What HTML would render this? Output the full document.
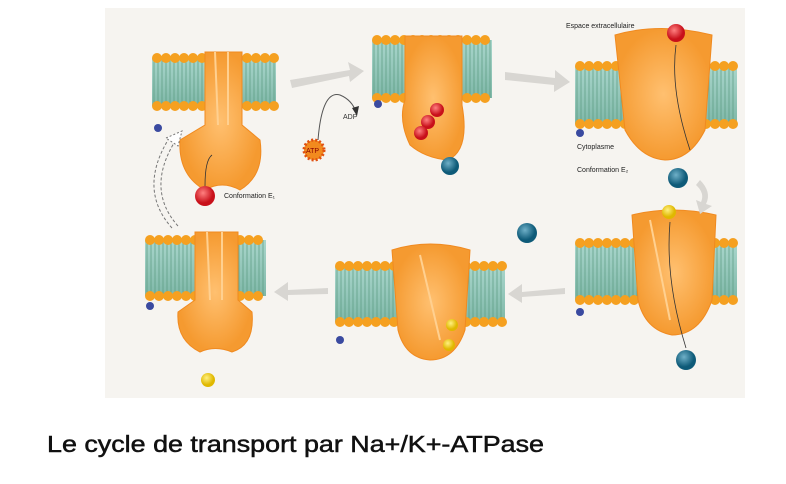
<!DOCTYPE html>
<html><head><meta charset="utf-8"><style>
body{margin:0;background:#fff;width:786px;height:484px;overflow:hidden;font-family:"Liberation Sans",sans-serif}
</style></head><body>
<svg id="fig" width="786" height="484" style="position:absolute;left:0;top:0">
<defs>
<radialGradient id="red" cx="40%" cy="35%"><stop offset="0" stop-color="#ff8080"/><stop offset="1" stop-color="#c8101a"/></radialGradient>
<radialGradient id="blue" cx="40%" cy="35%"><stop offset="0" stop-color="#6fb0c8"/><stop offset="1" stop-color="#0e5a78"/></radialGradient>
<radialGradient id="yel" cx="40%" cy="35%"><stop offset="0" stop-color="#fff080"/><stop offset="1" stop-color="#e0b800"/></radialGradient>
<radialGradient id="prot" cx="50%" cy="50%"><stop offset="0" stop-color="#ffc070"/><stop offset="1" stop-color="#f59a30"/></radialGradient>
<linearGradient id="tail" x1="0" y1="0" x2="0" y2="1"><stop offset="0" stop-color="#a9d6cc"/><stop offset="1" stop-color="#7fb8a8"/></linearGradient>
</defs>
<rect x="105" y="8" width="640" height="390" fill="#f6f4f0"/>
<g id="mem"></g>
<g id="arrows" fill="#d8d6d2">
 <path d="M290 80 L350 70 L348 62 L364 71 L350 82 L349 76 L292 88Z"/>
 <path d="M505 72 L555 78 L555 70 L570 82 L554 92 L554 85 L505 80Z"/>
 <path d="M700 180 Q712 192 706 204 L712 206 L700 214 L696 200 L701 202 Q705 193 696 185Z"/>
 <path d="M565 288 L522 292 L522 284 L508 294 L522 303 L522 297 L565 294Z"/>
 <path d="M328 288 L288 290 L288 282 L274 292 L288 301 L288 295 L328 294Z"/>
</g>
<path d="M172 228 Q138 190 168 140" fill="none" stroke="#777" stroke-width="1" stroke-dasharray="3 2"/>
<path d="M178 226 Q146 190 174 143" fill="none" stroke="#777" stroke-width="1" stroke-dasharray="3 2"/>
<path d="M166 138 L182 131 L178 146Z" fill="#fff" stroke="#777" stroke-dasharray="2 2"/>
<path d="M318 140 Q322 90 340 95 Q352 100 356 112" fill="none" stroke="#555"/>
<path d="M352 108 L357 116 L359 106Z" fill="#333"/>
<text x="343" y="119" font-size="7" fill="#333">ADP</text>
<g><circle cx="314" cy="150" r="10" fill="#f28a1e" stroke="#e05010" stroke-width="3" stroke-dasharray="2 2"/><text x="306" y="153" font-size="7" fill="#800">ATP</text></g>
<text x="566" y="28" font-size="7" fill="#222">Espace extracellulaire</text>
<text x="577" y="149" font-size="7" fill="#222">Cytoplasme</text>
<text x="577" y="172" font-size="7" fill="#222">Conformation E₂</text>
<text x="224" y="198" font-size="7" fill="#222">Conformation E₁</text>
<g id="ions"></g>
<text x="47" y="452" font-size="23" fill="#111" stroke="#111" stroke-width="0.5" textLength="497" lengthAdjust="spacingAndGlyphs">Le cycle de transport par Na+/K+-ATPase</text>
</svg>
<script>
const NS="http://www.w3.org/2000/svg";
const svg=document.getElementById('fig'),mem=document.getElementById('mem'),ions=document.getElementById('ions');
function el(t,a,p){const e=document.createElementNS(NS,t);for(const k in a)e.setAttribute(k,a[k]);(p||mem).appendChild(e);return e;}
const membranes=[[152,276,58,106],[372,492,40,98],[575,737,66,124],[145,266,240,296],[335,505,266,322],[575,737,243,300]];
membranes.forEach((m,i)=>{
 const g=el('g',{});
 
 
 el('rect',{x:m[0],y:m[2],width:m[1]-m[0],height:m[3]-m[2],fill:'url(#tail)'},g);
 for(let x=m[0]+2;x<m[1];x+=4)el('line',{x1:x,y1:m[2],x2:x,y2:m[3],stroke:'#5a9a80','stroke-width':0.7},g);
 for(let x=m[0]+5;x<m[1];x+=9){el('circle',{cx:x,cy:m[2],r:5,fill:'#f5a020'},g);el('circle',{cx:x,cy:m[3],r:5,fill:'#f5a020'},g);}
});
const prot=[
 "M205 52 L242 52 L242 125 L260 140 Q265 175 240 190 Q222 180 205 190 Q178 175 180 140 L205 125Z",
 "M405 36 L462 36 L462 105 Q470 150 448 160 Q425 158 410 145 Q398 120 405 100Z",
 "M615 35 Q660 22 712 35 L705 130 Q690 160 665 160 Q640 158 625 130Z",
 "M195 232 L238 232 L238 300 L252 312 Q255 345 232 352 Q215 345 200 352 Q176 340 178 312 L195 300Z",
 "M392 250 Q430 238 470 250 L465 330 Q455 360 430 360 Q405 358 398 330Z",
 "M632 215 Q672 205 716 215 L712 300 Q700 335 672 335 Q645 330 638 300Z"];
prot.forEach((d,i)=>{const p=el('path',{d:d,fill:'url(#prot)',stroke:'#f08a20'});
 
 });
[[215,52,218,125],[228,52,228,125],[207,232,210,300],[222,232,222,300],[420,255,440,340],[650,220,670,320]].forEach(l=>el('line',{x1:l[0],y1:l[1],x2:l[2],y2:l[3],stroke:'#ffd090','stroke-width':2}));
const balls=[['red',205,196,10],['red',437,110,7],['red',428,122,7],['red',421,133,7],['blue',450,166,9],['red',676,33,9],['blue',678,178,10],['yel',669,212,7],['blue',686,360,10],['yel',452,325,6],['yel',449,345,6],['blue',527,233,10],['yel',208,380,7]];
balls.forEach((b,i)=>{const c=el('circle',{cx:b[1],cy:b[2],r:b[3],fill:'url(#'+b[0]+')'},ions);
 
 });
[[158,128],[378,104],[580,133],[150,306],[340,340],[580,312]].forEach((p,i)=>{const c=el('circle',{cx:p[0],cy:p[1],r:4,fill:'#3a4aa0'},ions);
 
 });
[["M205 186 Q205 160 212 155"],["M690 150 Q670 90 676 45"],["M670 222 Q665 280 686 348"]].forEach(d=>el('path',{d:d[0],fill:'none',stroke:'#333','stroke-width':0.8},ions));
</script>
</body></html>
